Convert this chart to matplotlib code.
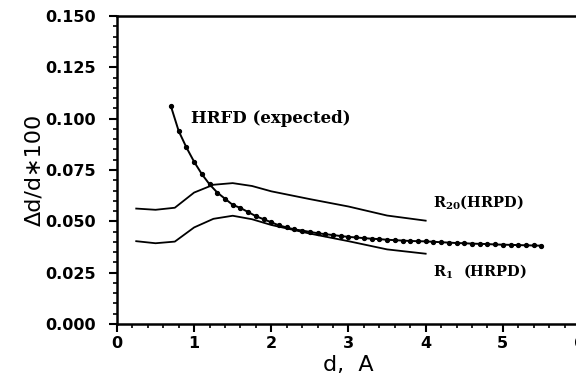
import matplotlib
matplotlib.use('Agg')
import matplotlib.pyplot as plt
from matplotlib.ticker import MultipleLocator, FormatStrFormatter

plt.rcParams['mathtext.fontset'] = 'dejavuserif'

# --- data ---
hrfd_d = [0.7, 0.8, 0.9, 1.0, 1.1, 1.2, 1.3, 1.4, 1.5, 1.6, 1.7, 1.8, 1.9,
          2.0, 2.1, 2.2, 2.3, 2.4, 2.5, 2.6, 2.7, 2.8, 2.9, 3.0, 3.1, 3.2,
          3.3, 3.4, 3.5, 3.6, 3.7, 3.8, 3.9, 4.0, 4.1, 4.2, 4.3, 4.4, 4.5,
          4.6, 4.7, 4.8, 4.9, 5.0, 5.1, 5.2, 5.3, 5.4, 5.5]
hrfd_res = [0.106, 0.094, 0.086, 0.079, 0.073, 0.068, 0.064, 0.061, 0.058,
            0.0565, 0.0545, 0.0525, 0.051, 0.0495, 0.048, 0.047, 0.046,
            0.0455, 0.0448, 0.0442, 0.0437, 0.0433, 0.0428, 0.0424, 0.0421,
            0.0418, 0.0415, 0.0413, 0.041, 0.0408, 0.0406, 0.0404, 0.0403,
            0.0402, 0.04, 0.0398, 0.0396, 0.0394, 0.0393, 0.0391, 0.039,
            0.0389, 0.0387, 0.0386, 0.0385, 0.0384, 0.0383, 0.0382, 0.0381]

hrpd_d = [0.25, 0.5, 0.75, 1.0, 1.25, 1.5, 1.75, 2.0, 2.5, 3.0, 3.5, 4.0]
r20_res = [0.0562, 0.0556, 0.0566, 0.0640, 0.0678, 0.0686, 0.0672, 0.0646,
           0.0608, 0.0572, 0.0528, 0.0503]
r1_res = [0.0403, 0.0393, 0.0401, 0.0470, 0.0512, 0.0527, 0.0510, 0.0482,
          0.0440, 0.0403, 0.0363, 0.0342]

fig = plt.figure(figsize=(5.76, 3.74), dpi=100)
ax = fig.add_axes([0.203, 0.134, 0.804, 0.823])

ax.plot(hrfd_d, hrfd_res, color='black', lw=1.4, marker='o', ms=2.8)
ax.plot(hrpd_d, r20_res, color='black', lw=1.3)
ax.plot(hrpd_d, r1_res, color='black', lw=1.3)

serif = dict(family='DejaVu Serif', weight='bold', va='center')
ax.text(0.96, 0.1003, 'HRFD (expected)', fontsize=12, **serif)
ax.text(4.09, 0.0592, r'R$_{\mathbf{20}}$(HRPD)', fontsize=10.5, **serif)
ax.text(4.09, 0.0255, r'R$_{\mathbf{1}}$  (HRPD)', fontsize=10.5, **serif)

ax.set_xlim(0, 6)
ax.set_ylim(0, 0.150)
ax.xaxis.set_major_locator(MultipleLocator(1))
ax.xaxis.set_minor_locator(MultipleLocator(0.2))
ax.yaxis.set_major_locator(MultipleLocator(0.025))
ax.yaxis.set_minor_locator(MultipleLocator(0.005))
ax.yaxis.set_major_formatter(FormatStrFormatter('%.3f'))

ax.spines['right'].set_visible(False)
for s in ['left', 'bottom', 'top']:
    ax.spines[s].set_linewidth(1.8)
ax.tick_params(which='major', direction='out', length=5.5, width=1.5,
               labelsize=11.5, pad=3)
ax.tick_params(axis='y', which='major', pad=10)
ax.tick_params(which='minor', direction='out', length=3, width=1.2)
for lab in ax.get_xticklabels() + ax.get_yticklabels():
    lab.set_family('DejaVu Sans')
    lab.set_fontweight('bold')

ax.set_xlabel('d,  A', fontsize=16, family='DejaVu Sans', labelpad=3)
ax.set_ylabel('Δd/d\u2217100', fontsize=16, family='DejaVu Sans', labelpad=0)

fig.savefig('out.png', dpi=100)
